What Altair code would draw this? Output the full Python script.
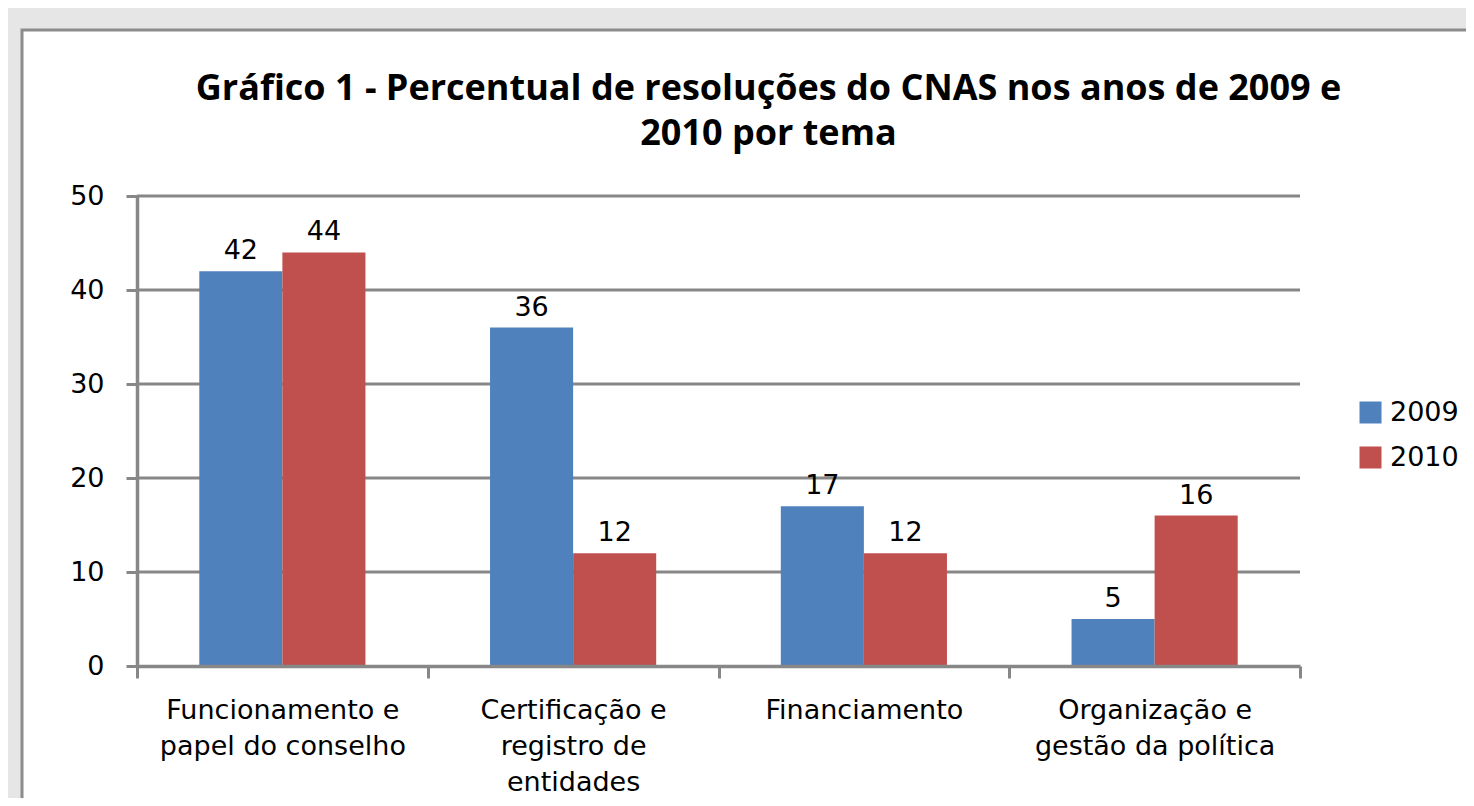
import altair as alt
import pandas as pd

categories = [
    "Funcionamento e|papel do conselho",
    "Certificação e|registro de|entidades",
    "Financiamento",
    "Organização e|gestão da política",
]
years = ["2009", "2010"]
values_2009 = [42, 36, 17, 5]
values_2010 = [44, 12, 12, 16]
grid_values = [10, 20, 30, 40, 50]

rows = []
for c, v in zip(categories, values_2009):
    rows.append({"tema": c, "ano": "2009", "valor": v})
for c, v in zip(categories, values_2010):
    rows.append({"tema": c, "ano": "2010", "valor": v})
df = pd.DataFrame(rows)
grid_df = pd.DataFrame({"v": grid_values})

FONT = "DejaVu Sans"
TFONT = "Open Sans"
GRAY = "#878787"

x_enc = alt.X(
    "tema:N",
    sort=categories,
    title=None,
    scale=alt.Scale(paddingInner=0, paddingOuter=0),
    axis=alt.Axis(
        labelExpr="split(datum.label, '|')",
        labelAngle=0,
        labelFontSize=27,
        labelFont=FONT,
        labelColor="#000000",
        labelLineHeight=36,
        labelPadding=19,
        labelBaseline="top",
        labelLimit=0,
        tickBand="extent",
        tickSize=12,
        tickWidth=3,
        tickColor=GRAY,
        domainColor=GRAY,
        domainWidth=3.5,
        grid=False,
        zindex=1,
    ),
)
y_enc = alt.Y(
    "valor:Q",
    title=None,
    scale=alt.Scale(domain=[0, 50], nice=False),
    axis=alt.Axis(
        values=[0, 10, 20, 30, 40, 50],
        labelFontSize=27,
        labelFont=FONT,
        labelColor="#000000",
        labelPadding=22,
        tickSize=11,
        tickWidth=3,
        tickColor=GRAY,
        domainColor=GRAY,
        domainWidth=3.5,
        grid=False,
        zindex=1,
    ),
)

frame = alt.Chart(pd.DataFrame({"a": [0]})).mark_rect(
    fill="#ffffff", stroke="#8c8c8c", strokeWidth=3
).encode(
    x=alt.value(-115), x2=alt.value(1400), y=alt.value(-166), y2=alt.value(700)
)

grid = alt.Chart(grid_df).mark_rule(color=GRAY, strokeWidth=3).encode(
    y=alt.Y("v:Q", scale=alt.Scale(domain=[0, 50], nice=False))
)

bars = alt.Chart(df).mark_bar(stroke=None).encode(
    x=x_enc,
    xOffset=alt.XOffset("ano:N", scale=alt.Scale(paddingInner=0, paddingOuter=0.75)),
    y=y_enc,
    color=alt.Color(
        "ano:N",
        scale=alt.Scale(domain=years, range=["#4F81BD", "#C0504D"]),
        legend=alt.Legend(
            title=None,
            orient="none",
            legendX=1220,
            legendY=203,
            symbolType="square",
            symbolSize=484,
            symbolStrokeWidth=0,
            labelFontSize=27,
            labelFont=FONT,
            labelColor="#000000",
            rowPadding=17,
            labelOffset=6,
        ),
    ),
)

labels = alt.Chart(df).mark_text(
    baseline="bottom", dy=-6, fontSize=27, font=FONT, color="#000000"
).encode(
    x=alt.X("tema:N", sort=categories),
    xOffset=alt.XOffset("ano:N", scale=alt.Scale(paddingInner=0, paddingOuter=0.75)),
    y=alt.Y("valor:Q"),
    text=alt.Text("valor:Q"),
)

chart = alt.layer(frame, grid, bars, labels).properties(
    width=1163,
    height=470,
    padding={"left": 129, "top": 188, "right": 166, "bottom": 132},
    autosize=alt.AutoSizeParams(type="none"),
    background="#e6e6e6",
    title=alt.TitleParams(
        text=["Gráfico 1 - Percentual de resoluções do CNAS nos anos de 2009 e", "2010 por tema"],
        fontSize=36,
        font=TFONT,
        fontWeight="bold",
        color="#000000",
        anchor="middle",
        dx=50,
        dy=124,
        lineHeight=45,
        offset=0,
    ),
).configure_view(stroke=None)

chart.save("out.html", embed_options={"renderer": "svg", "actions": False})
